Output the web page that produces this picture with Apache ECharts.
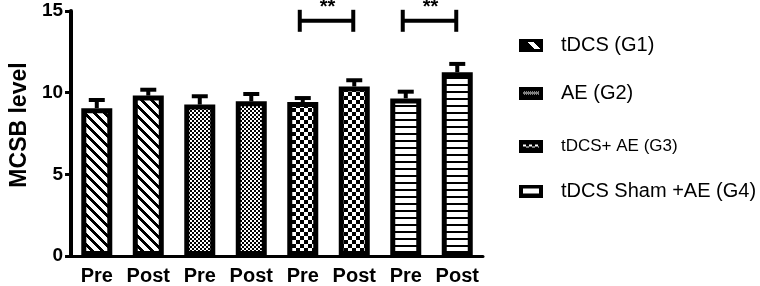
<!DOCTYPE html>
<html>
<head>
<meta charset="utf-8">
<script src="https://cdn.jsdelivr.net/npm/echarts@6/dist/echarts.min.js"></script>
<style>html,body{margin:0;padding:0;background:#fff}#c{width:760px;height:286px}</style>
</head>
<body>
<div id="c"></div>
<script>
// ---- data ----
const categories = ['Pre', 'Post', 'Pre', 'Post', 'Pre', 'Post', 'Pre', 'Post'];
const groupNames = ['tDCS (G1)', 'AE (G2)', 'tDCS+ AE (G3)', 'tDCS Sham +AE (G4)'];
const means = [9.05, 9.82, 9.27, 9.47, 9.43, 10.38, 9.65, 11.25];
const upperErr = [9.55, 10.18, 9.78, 9.92, 9.67, 10.76, 10.06, 11.76];
const groupOfBar = [0, 0, 1, 1, 2, 2, 3, 3];
const brackets = [[4, 5, 14.4, '**'], [6, 7, 14.4, '**']];
const yTicks = { min: 0, max: 15, interval: 5 };

// ---- patterns ----
function makeCanvas(w, h, fn) {
  const c = document.createElement('canvas');
  c.width = w; c.height = h;
  const ctx = c.getContext('2d');
  const img = ctx.createImageData(w, h);
  for (let y = 0; y < h; y++) for (let x = 0; x < w; x++) {
    const b = fn(x, y);
    const i = (y * w + x) * 4;
    const v = b ? 0 : 255;
    img.data[i] = v; img.data[i + 1] = v; img.data[i + 2] = v; img.data[i + 3] = 255;
  }
  ctx.putImageData(img, 0, 0);
  return c;
}
const patterns = [
  makeCanvas(10, 10, (x, y) => (((x - y) % 10) + 10) % 10 < 4),
  makeCanvas(4, 4, (x, y) => (Math.floor(x / 2) + Math.floor(y / 2)) % 2 === 0),
  makeCanvas(8, 8, (x, y) => (Math.floor(x / 4) + Math.floor(y / 4)) % 2 === 0),
  makeCanvas(4, 7, (x, y) => y < 2)
];
const iconW = 24, iconH = 13;
const icons = [
  makeCanvas(iconW, iconH, (x, y) => {
    const inBand = y >= 3 && y <= 9 && (x - y * 0.9) >= 6 && (x - y * 0.9) <= 12;
    return !inBand;
  }),
  makeCanvas(iconW, iconH, (x, y) => !(y >= 5 && y <= 7 && x >= 4 && x <= 19 && (x + y) % 2 === 0)),
  makeCanvas(iconW, iconH, (x, y) => !(y >= 5 && y <= 7 && x >= 4 && x <= 19 && (Math.floor((x - 4) / 3) % 2 === 0) === (y !== 7))),
  makeCanvas(iconW, iconH, (x, y) => !(y >= 4 && y <= 8 && x >= 4 && x <= 19))
];

// ---- series ----
const barSeries = groupNames.map((g, gi) => ({
  name: g,
  type: 'bar',
  barWidth: 31,
  barGap: '-100%',
  data: means.map((v, i) => groupOfBar[i] === gi ? v : '-'),
  itemStyle: {
    color: { image: patterns[gi], repeat: 'repeat' },
    borderColor: '#000',
    borderWidth: 5
  },
  z: 3,
  silent: true
}));

const errSeries = {
  type: 'custom',
  data: means.map((m, i) => [i, m, upperErr[i]]),
  z: 2,
  silent: true,
  renderItem: function (params, api) {
    const base = api.coord([api.value(0), api.value(1)]);
    const top = api.coord([api.value(0), api.value(2)]);
    return {
      type: 'group',
      children: [
        { type: 'line', shape: { x1: base[0], y1: base[1], x2: top[0], y2: top[1] }, style: { stroke: '#000', lineWidth: 4 } },
        { type: 'line', shape: { x1: top[0] - 8, y1: top[1], x2: top[0] + 8, y2: top[1] }, style: { stroke: '#000', lineWidth: 4 } }
      ]
    };
  }
};

const bracketSeries = {
  type: 'custom',
  data: brackets,
  z: 4,
  silent: true,
  clip: false,
  renderItem: function (params, api) {
    const a = api.coord([api.value(0), api.value(2)]);
    const b = api.coord([api.value(1), api.value(2)]);
    const x1 = a[0] - 3, x2 = b[0] - 1, y = a[1];
    return {
      type: 'group',
      children: [
        { type: 'line', shape: { x1: x1, y1: y, x2: x2, y2: y }, style: { stroke: '#000', lineWidth: 4 } },
        { type: 'line', shape: { x1: x1, y1: y - 11, x2: x1, y2: y + 11 }, style: { stroke: '#000', lineWidth: 4 } },
        { type: 'line', shape: { x1: x2, y1: y - 11, x2: x2, y2: y + 11 }, style: { stroke: '#000', lineWidth: 4 } },
        { type: 'text', style: { text: brackets[params.dataIndex][3], x: (x1 + x2) / 2 + 1, y: y - 13, align: 'center', verticalAlign: 'middle', font: 'bold 20px "Liberation Sans", Arial', fill: '#000' } }
      ]
    };
  }
};

const iconCenters = [45.5, 93, 146, 191];
const legendFont = [20, 20, 17, 20];
const legends = groupNames.map((g, i) => ({
  left: 519,
  top: iconCenters[i] - 10,
  padding: 0,
  orient: 'vertical',
  selectedMode: false,
  itemWidth: iconW,
  itemHeight: iconH,
  data: [{ name: g, icon: 'image://' + icons[i].toDataURL() }],
  textStyle: { fontSize: legendFont[i], lineHeight: 20, fontFamily: '"Liberation Sans", Arial', color: '#000', padding: [0, 0, 0, 13] }
}));

const chart = echarts.init(document.getElementById('c'), null, { renderer: 'canvas' });
chart.setOption({
  animation: false,
  backgroundColor: '#fff',
  grid: { left: 62, right: 277, top: 11, bottom: 30, containLabel: false },
  legend: legends,
  xAxis: {
    type: 'category',
    data: categories,
    axisLine: { lineStyle: { color: '#000', width: 3 } },
    axisTick: { alignWithLabel: true, length: 6, lineStyle: { color: '#000', width: 2 } },
    axisLabel: { color: '#000', fontSize: 20, fontWeight: 'bold', fontFamily: '"Liberation Sans", Arial', margin: 10, interval: 0 },
    splitLine: { show: false }
  },
  yAxis: {
    type: 'value',
    min: yTicks.min, max: yTicks.max, interval: yTicks.interval,
    name: 'MCSB level',
    nameLocation: 'middle',
    nameGap: 39,
    nameTextStyle: { color: '#000', fontSize: 23, fontWeight: 'bold', fontFamily: '"Liberation Sans", Arial', padding: [0, 0, 0, 17] },
    axisLine: { show: true, lineStyle: { color: '#000', width: 4 } },
    axisTick: { show: true, length: 6, lineStyle: { color: '#000', width: 3 } },
    axisLabel: { color: '#000', fontSize: 19, fontWeight: 'bold', fontFamily: '"Liberation Sans", Arial', margin: 8 },
    splitLine: { show: false }
  },
  series: [...barSeries, errSeries, bracketSeries]
});
</script>
</body>
</html>
